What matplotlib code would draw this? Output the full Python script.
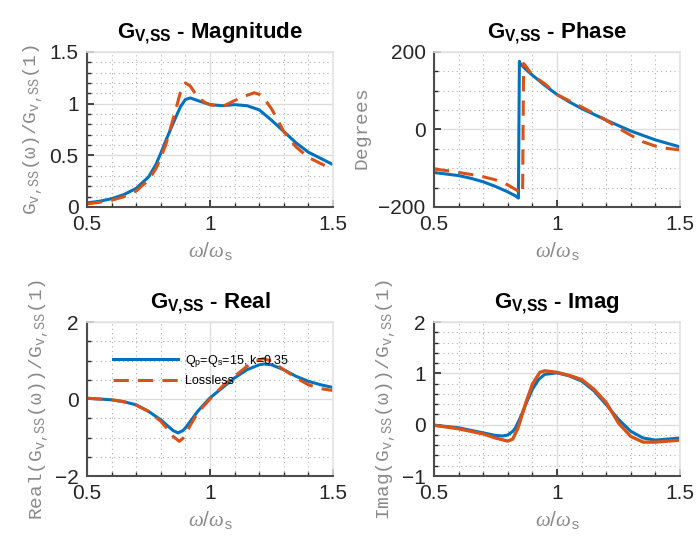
import matplotlib
matplotlib.use('Agg')
import matplotlib.pyplot as plt
from matplotlib.ticker import MultipleLocator

plt.rcParams['mathtext.fontset'] = 'custom'
plt.rcParams['mathtext.rm'] = 'Liberation Mono'
plt.rcParams['mathtext.it'] = 'Liberation Serif:italic'
plt.rcParams['mathtext.bf'] = 'Liberation Sans:bold'
plt.rcParams['font.family'] = 'Liberation Sans'

# --- data ---
mag_x_loss = [0.5, 0.55, 0.6, 0.65, 0.7, 0.75, 0.78, 0.8, 0.82, 0.85, 0.88, 0.9, 0.92, 0.95, 0.98, 1.0, 1.05, 1.1, 1.15, 1.18, 1.2, 1.22, 1.25, 1.28, 1.3, 1.35, 1.4, 1.45, 1.5]
mag_loss = [0.03, 0.045, 0.065, 0.1, 0.155, 0.26, 0.37, 0.48, 0.6, 0.85, 1.11, 1.2, 1.17, 1.06, 1.01, 0.99, 0.97, 1.03, 1.08, 1.105, 1.09, 1.05, 0.95, 0.82, 0.73, 0.58, 0.48, 0.42, 0.37]
mag_x = [0.5, 0.55, 0.6, 0.65, 0.7, 0.75, 0.78, 0.8, 0.82, 0.85, 0.88, 0.9, 0.92, 0.95, 1.0, 1.05, 1.1, 1.15, 1.2, 1.25, 1.3, 1.35, 1.4, 1.45, 1.5]
mag_q = [0.04, 0.055, 0.08, 0.12, 0.18, 0.29, 0.41, 0.52, 0.64, 0.81, 0.97, 1.04, 1.055, 1.03, 0.99, 0.98, 0.99, 0.98, 0.94, 0.84, 0.73, 0.62, 0.53, 0.47, 0.41]

ph_x_q = [0.5, 0.55, 0.6, 0.65, 0.7, 0.75, 0.8, 0.83, 0.843, 0.847, 0.85, 0.875, 0.9, 0.95, 1.0, 1.05, 1.1, 1.2, 1.3, 1.4, 1.5]
ph_q = [-111, -115, -119, -126, -135, -147, -161, -171, -177, 176, 170, 154, 140, 114, 90, 71, 54, 24, -4, -27, -45]
ph_x_loss = [0.5, 0.55, 0.6, 0.65, 0.7, 0.75, 0.8, 0.84, 0.86, 0.864, 0.87, 0.9, 0.95, 1.0, 1.1, 1.2, 1.25, 1.3, 1.35, 1.4, 1.45, 1.5]
ph_loss = [-102, -106, -111, -116, -122, -130, -143, -158, -166, 170, 166, 140, 118, 90, 58, 24, 3, -15, -32, -43, -49, -53]

re_x_q = [0.5, 0.6, 0.65, 0.7, 0.75, 0.8, 0.83, 0.85, 0.87, 0.89, 0.9, 0.92, 0.95, 1.0, 1.05, 1.1, 1.15, 1.2, 1.22, 1.25, 1.3, 1.35, 1.4, 1.45, 1.5]
re_q = [0.02, -0.02, -0.07, -0.15, -0.32, -0.54, -0.71, -0.82, -0.88, -0.82, -0.75, -0.58, -0.32, 0.03, 0.29, 0.55, 0.76, 0.89, 0.91, 0.89, 0.76, 0.59, 0.46, 0.37, 0.30]
re_x_loss = [0.5, 0.6, 0.65, 0.7, 0.75, 0.8, 0.83, 0.85, 0.875, 0.89, 0.9, 0.92, 0.95, 1.0, 1.05, 1.1, 1.15, 1.2, 1.22, 1.25, 1.3, 1.35, 1.4, 1.45, 1.5]
re_loss = [0.02, -0.02, -0.07, -0.16, -0.32, -0.58, -0.8, -0.97, -1.1, -1.02, -0.93, -0.68, -0.36, 0.0, 0.33, 0.59, 0.85, 1.02, 1.05, 0.98, 0.76, 0.55, 0.37, 0.27, 0.22]

im_x_q = [0.5, 0.6, 0.7, 0.75, 0.78, 0.8, 0.82, 0.83, 0.85, 0.875, 0.9, 0.925, 0.95, 1.0, 1.05, 1.1, 1.15, 1.2, 1.25, 1.3, 1.35, 1.4, 1.45, 1.5]
im_q = [-0.01, -0.06, -0.16, -0.21, -0.22, -0.2, -0.13, -0.07, 0.13, 0.42, 0.69, 0.88, 0.98, 1.01, 0.95, 0.85, 0.66, 0.39, 0.1, -0.13, -0.26, -0.3, -0.28, -0.26]
im_x_loss = [0.5, 0.6, 0.7, 0.75, 0.8, 0.82, 0.84, 0.85, 0.875, 0.9, 0.93, 0.95, 1.0, 1.05, 1.1, 1.15, 1.2, 1.25, 1.3, 1.35, 1.4, 1.45, 1.5]
im_loss = [-0.01, -0.08, -0.18, -0.26, -0.32, -0.28, -0.08, 0.07, 0.45, 0.79, 1.02, 1.05, 1.02, 0.96, 0.88, 0.69, 0.43, 0.03, -0.23, -0.34, -0.34, -0.32, -0.3]

blue = '#0072BD'
red = '#D95319'
label_gray = '#8a8a8a'
dark = '#262626'

fig = plt.figure(figsize=(6.97, 5.44), dpi=100)
w, h = 0.353, 0.285
ax_mag = fig.add_axes([0.1248, 0.6195, w, h])
ax_ph = fig.add_axes([0.6227, 0.6195, w, h])
ax_re = fig.add_axes([0.1248, 0.125, w, 0.283])
ax_im = fig.add_axes([0.6227, 0.125, w, 0.283])

ylab = r'$\mathrm{G_{v{,}SS}(ω)/G_{v{,}SS}(1)}$'
dash = (0, (5, 3))


def style(ax, title, ylim, yticks, yminor, ylabel):
    ax.set_xlim(0.5, 1.5)
    ax.set_ylim(*ylim)
    ax.set_xticks([0.5, 1, 1.5])
    ax.set_xticklabels(['0.5', '1', '1.5'])
    ax.set_yticks(yticks)
    ax.xaxis.set_minor_locator(MultipleLocator(0.1))
    ax.yaxis.set_minor_locator(MultipleLocator(yminor))
    ax.grid(which='major', color='#dedede', lw=1.0, ls='-')
    ax.grid(which='minor', color='#b0b0b0', lw=0.8, ls=(0, (1, 3)))
    ax.set_axisbelow(True)
    ax.tick_params(which='both', direction='in', top=False, right=False,
                   colors=dark, labelsize=15, labelcolor=dark)
    ax.tick_params(which='major', length=5, width=1.2, pad=6)
    ax.tick_params(which='minor', length=3, width=1.0)
    for s in ['left', 'bottom']:
        ax.spines[s].set_color('#4d4d4d')
        ax.spines[s].set_linewidth(1.5)
    for s in ['top', 'right']:
        ax.spines[s].set_color('#e3e3e3')
        ax.spines[s].set_linewidth(1.2)
    ax.set_title(title, fontsize=16, fontweight='bold', pad=10)
    ax.set_xlabel(r'$\omega$/$\omega_{\mathrm{s}}$', fontsize=15, color=label_gray, labelpad=4)
    ax.set_ylabel(ylabel, fontsize=14, color=label_gray, labelpad=3)


ax_mag.plot(mag_x, mag_q, color=blue, lw=2.2)
ax_mag.plot(mag_x_loss, mag_loss, color=red, lw=2.2, ls=dash)
style(ax_mag, r'$\mathbf{G_{V{,}SS}}$ - Magnitude', (0, 1.5), [0, 0.5, 1, 1.5], 0.1, ylab)
ax_mag.set_yticklabels(['0', '0.5', '1', '1.5'])

ax_ph.plot(ph_x_q, ph_q, color=blue, lw=2.2)
ax_ph.plot(ph_x_loss, ph_loss, color=red, lw=2.2, ls=dash)
style(ax_ph, r'$\mathbf{G_{V{,}SS}}$ - Phase', (-200, 200), [-200, 0, 200], 50, r'$\mathrm{Degrees}$')

ax_re.plot(re_x_q, re_q, color=blue, lw=2.2, label=r'Q$_\mathregular{p}$=Q$_\mathregular{s}$=15, k=0.35')
ax_re.plot(re_x_loss, re_loss, color=red, lw=2.2, ls=dash, label='Lossless')
style(ax_re, r'$\mathbf{G_{V{,}SS}}$ - Real', (-2, 2), [-2, 0, 2], 0.5,
      r'$\mathrm{Real(G_{v{,}SS}(ω))/G_{v{,}SS}(1)}$')
ax_re.legend(loc='upper left', bbox_to_anchor=(0.08, 0.84), frameon=False, fontsize=9,
             handlelength=5.2, handletextpad=0.6, labelspacing=0.45, borderpad=0)

ax_im.plot(im_x_q, im_q, color=blue, lw=2.2)
ax_im.plot(im_x_loss, im_loss, color=red, lw=2.4)
style(ax_im, r'$\mathbf{G_{V{,}SS}}$ - Imag', (-1, 2), [-1, 0, 1, 2], 0.2,
      r'$\mathrm{Imag(G_{v{,}SS}(ω))/G_{v{,}SS}(1)}$')

fig.savefig('out.png', dpi=100)
